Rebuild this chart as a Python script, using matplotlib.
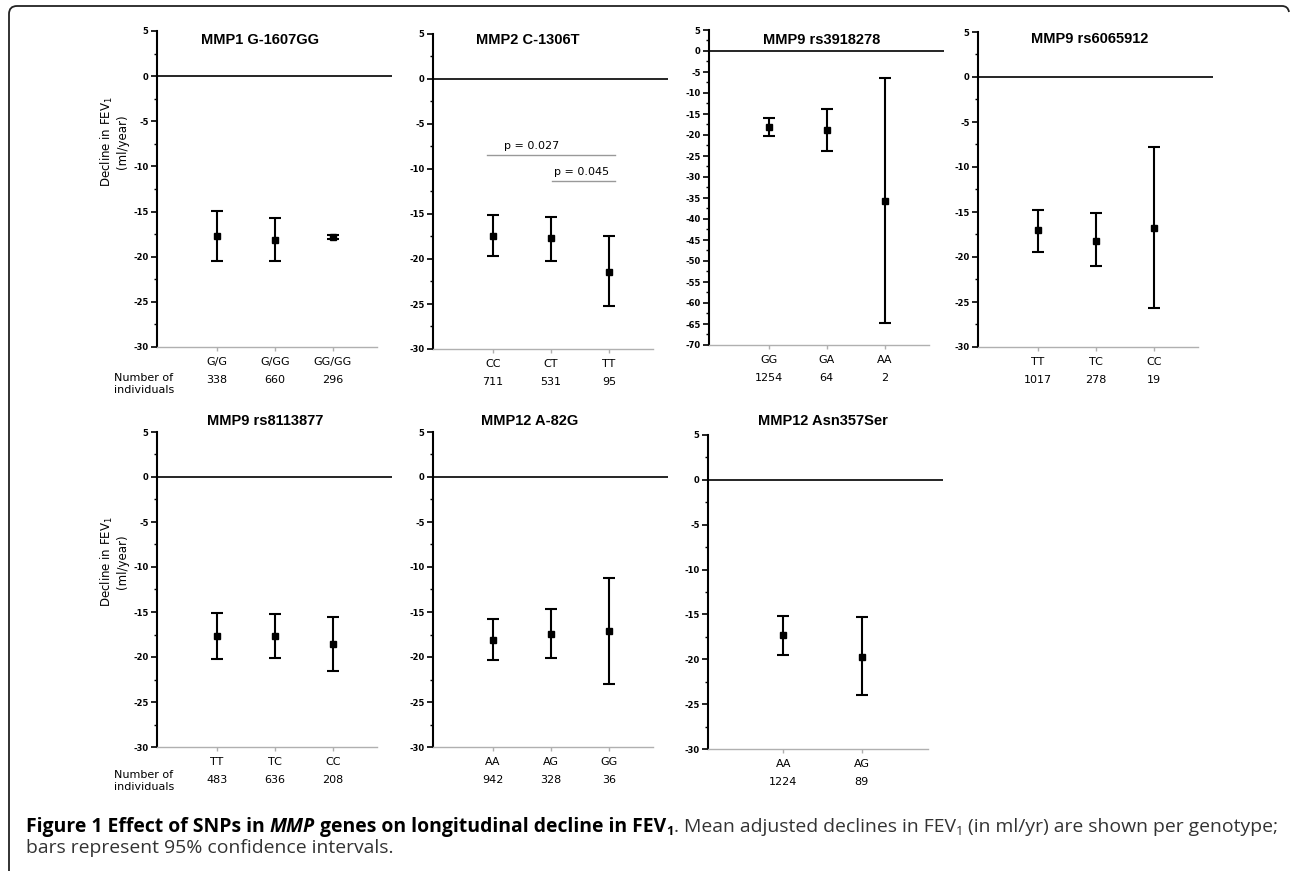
import numpy as np
import matplotlib
matplotlib.use("Agg")
import matplotlib.pyplot as plt
from matplotlib import font_manager
from matplotlib.path import Path
from matplotlib.patches import PathPatch

plt.rcParams['font.family'] = ['Liberation Sans', 'DejaVu Sans']
plt.rcParams['mathtext.fontset'] = 'dejavusans'

# data (mean decline, 95% CI)
mmp1_gt = ["G/G", "G/GG", "GG/GG"]
mmp1_n = [338, 660, 296]
mmp1_mean = [-17.7, -18.1, -17.8]
mmp1_lo = [-20.5, -20.5, -18.0]
mmp1_hi = [-14.95, -15.75, -17.6]

mmp2_gt = ["CC", "CT", "TT"]
mmp2_n = [711, 531, 95]
mmp2_mean = [-17.4, -17.7, -21.4]
mmp2_lo = [-19.7, -20.2, -25.2]
mmp2_hi = [-15.1, -15.3, -17.5]

rs3918278_gt = ["GG", "GA", "AA"]
rs3918278_n = [1254, 64, 2]
rs3918278_mean = [-18.0, -18.8, -35.6]
rs3918278_lo = [-20.2, -23.9, -64.7]
rs3918278_hi = [-15.9, -13.9, -6.5]

rs6065912_gt = ["TT", "TC", "CC"]
rs6065912_n = [1017, 278, 19]
rs6065912_mean = [-17.05, -18.2, -16.8]
rs6065912_lo = [-19.4, -21.0, -25.65]
rs6065912_hi = [-14.8, -15.1, -7.75]

rs8113877_gt = ["TT", "TC", "CC"]
rs8113877_n = [483, 636, 208]
rs8113877_mean = [-17.7, -17.7, -18.55]
rs8113877_lo = [-20.2, -20.1, -21.55]
rs8113877_hi = [-15.15, -15.2, -15.5]

mmp12a_gt = ["AA", "AG", "GG"]
mmp12a_n = [942, 328, 36]
mmp12a_mean = [-18.1, -17.4, -17.1]
mmp12a_lo = [-20.3, -20.1, -23.0]
mmp12a_hi = [-15.8, -14.7, -11.2]

mmp12b_gt = ["AA", "AG"]
mmp12b_n = [1224, 89]
mmp12b_mean = [-17.3, -19.7]
mmp12b_lo = [-19.5, -24.0]
mmp12b_hi = [-15.2, -15.3]

titles = ["MMP1 G-1607GG", "MMP2 C-1306T", "MMP9 rs3918278", "MMP9 rs6065912",
          "MMP9 rs8113877", "MMP12 A-82G", "MMP12 Asn357Ser"]
p_labels = ["p = 0.027", "p = 0.045"]

W, H = 1290, 871
fig = plt.figure(figsize=(W / 100, H / 100), dpi=100)
small = 'DejaVu Sans'

# layout in pixels: left, top, bottom, ymin, title x offset, title y
panels = [
    (mmp1_gt, mmp1_n, mmp1_mean, mmp1_lo, mmp1_hi, 157, 31, 347, -30, 103, 40),
    (mmp2_gt, mmp2_n, mmp2_mean, mmp2_lo, mmp2_hi, 433, 34, 349, -30, 95, 40),
    (rs3918278_gt, rs3918278_n, rs3918278_mean, rs3918278_lo, rs3918278_hi, 709, 30, 345, -70, 113, 40),
    (rs6065912_gt, rs6065912_n, rs6065912_mean, rs6065912_lo, rs6065912_hi, 978, 32, 347, -30, 112, 39),
    (rs8113877_gt, rs8113877_n, rs8113877_mean, rs8113877_lo, rs8113877_hi, 157, 432, 747, -30, 108, 421),
    (mmp12a_gt, mmp12a_n, mmp12a_mean, mmp12a_lo, mmp12a_hi, 433, 432, 747, -30, 97, 421),
    (mmp12b_gt, mmp12b_n, mmp12b_mean, mmp12b_lo, mmp12b_hi, 708, 435, 749, -30, 115, 421),
]
AX_W = 235

axes = []
for i, (gt, n, mean, lo, hi, left, top, bottom, ymin, tx, ty) in enumerate(panels):
    ax = fig.add_axes([left / W, 1 - bottom / H, AX_W / W, (bottom - top) / H])
    axes.append(ax)
    x = np.arange(1, len(gt) + 1)
    mean = np.array(mean)
    err = [mean - np.array(lo), np.array(hi) - mean]
    if len(gt) == 3:
        ax.set_xlim(-0.03, 4.02)
        xend = 3.76
    else:
        ax.set_xlim(0.04, 3.04)
        xend = 2.85
    ax.set_ylim(ymin, 5)
    ax.axhline(0, color='black', lw=1.2, zorder=1)
    ax.errorbar(x, mean, yerr=err, fmt='s', color='black', ms=5,
                capsize=4.5, elinewidth=1.5, capthick=1.5, zorder=3)

    for s in ['top', 'right']:
        ax.spines[s].set_visible(False)
    ax.spines['left'].set_linewidth(1.5)
    ax.spines['bottom'].set_color('#b0b0b0')
    ax.spines['bottom'].set_linewidth(1.0)
    ax.spines['bottom'].set_bounds(ax.get_xlim()[0], xend)

    ax.set_yticks(np.arange(ymin, 5.1, 5))
    ax.set_yticks(np.arange(ymin, 5.1, 2.5), minor=True)
    ax.set_yticklabels([f"{int(v)}" for v in np.arange(ymin, 5.1, 5)],
                       fontsize=6, fontweight='bold', family=small)
    ax.tick_params(axis='y', which='major', length=4, width=1.2, pad=2)
    ax.tick_params(axis='y', which='minor', length=2, width=1.0)
    ax.set_xticks(x)
    ax.set_xticklabels(gt, fontsize=8, family=small)
    ax.tick_params(axis='x', length=3, width=1, color='#b0b0b0', pad=4)
    for xi, ni in zip(x, n):
        ax.annotate(str(ni), xy=(xi, 0), xycoords=ax.get_xaxis_transform(),
                    xytext=(0, -33), textcoords='offset pixels',
                    ha='center', va='center', fontsize=8, family=small)

    fig.text((left + tx) / W, 1 - ty / H, titles[i], ha='center', va='center',
             fontsize=10.5, fontweight='bold')

# significance brackets in MMP2 panel
ax2 = axes[1]
ax2.plot([0.9, 3.1], [-8.4, -8.4], color='#999999', lw=1)
ax2.plot([2.02, 3.1], [-11.3, -11.3], color='#999999', lw=1)
ax2.text(1.67, -7.5, p_labels[0], ha='center', va='center', fontsize=8, family=small)
ax2.text(2.53, -10.3, p_labels[1], ha='center', va='center', fontsize=8, family=small)

# y labels and row label
for cy in [142, 562]:
    fig.text(114 / W, 1 - cy / H, "Decline in FEV$_1$\n(ml/year)", rotation=90,
             ha='center', va='center', fontsize=8.5, linespacing=1.15,
             family=small, multialignment='center')
for cy in [384, 781]:
    fig.text(144 / W, 1 - cy / H, "Number of\nindividuals", ha='center',
             va='center', fontsize=8, linespacing=1.3, family=small,
             multialignment='center')

# frame
verts = [(9, H), (9, 14), (9, 6), (17, 6), (1282, 6), (1288, 6), (1289, 12)]
codes = [Path.MOVETO, Path.LINETO, Path.CURVE3, Path.CURVE3, Path.LINETO,
         Path.CURVE3, Path.CURVE3]
fverts = [(vx / W, 1 - vy / H) for vx, vy in verts]
fig.add_artist(PathPatch(Path(fverts, codes), fill=False, lw=1.3,
                         edgecolor='#222222', transform=fig.transFigure))

# caption
cap_font = 'Open Sans'
for cand in ['Liberation Sans Narrow', 'Open Sans']:
    try:
        font_manager.findfont(cand, fallback_to_default=False)
        cap_font = cand
        break
    except Exception:
        pass

renderer = fig.canvas.get_renderer()


def draw_caption(size):
    line1 = [
        ("Figure 1 Effect of SNPs in ", 'bold', 'normal', 1.0, 0, 'black'),
        ("MMP", 'bold', 'italic', 1.0, 0, 'black'),
        (" genes on longitudinal decline in FEV", 'bold', 'normal', 1.0, 0, 'black'),
        ("1", 'bold', 'normal', 0.65, 3, 'black'),
        (". Mean adjusted declines in FEV", 'normal', 'normal', 1.0, 0, '#333333'),
        ("1", 'normal', 'normal', 0.65, 3, '#333333'),
        (" (in ml/yr) are shown per genotype;", 'normal', 'normal', 1.0, 0, '#333333'),
    ]
    arts = []
    xx = 26
    for txt, wt, st, sc, dy, col in line1:
        t = fig.text(xx / W, 1 - (832 + dy) / H, txt, fontsize=size * sc,
                     fontweight=wt, fontstyle=st, family=cap_font, color=col,
                     va='baseline', ha='left')
        arts.append(t)
        bb = t.get_window_extent(renderer)
        xx += bb.width
    t = fig.text(26 / W, 1 - 853 / H, "bars represent 95% confidence intervals.",
                 fontsize=size, family=cap_font, color='#333333', va='baseline')
    arts.append(t)
    return arts, xx


arts, xend = draw_caption(10)
scale = (1278 - 26) / (xend - 26)
for a in arts:
    a.remove()
draw_caption(10 * scale)

fig.savefig("out.png", dpi=100)
